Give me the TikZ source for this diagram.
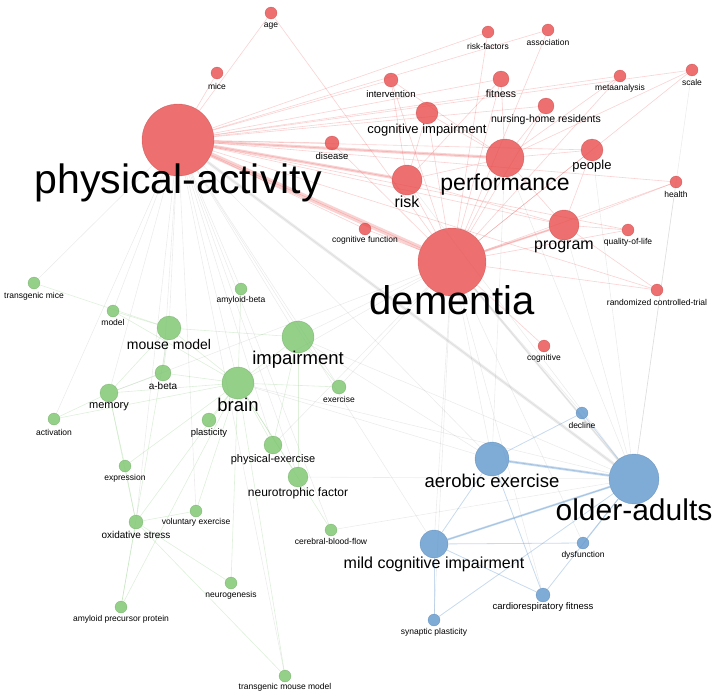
\documentclass[tikz,border=0pt]{standalone}
\usepackage{fontspec}
\setmainfont{Liberation Sans}
\usetikzlibrary{backgrounds}

\definecolor{kwred}{RGB}{232,75,75}
\definecolor{kwgreen}{RGB}{122,196,108}
\definecolor{kwblue}{RGB}{95,150,205}

% keyword circle with its label: name, x, y, radius, colour, font size, label y, text
\newcommand{\kw}[8]{%
  \node[kwnode, fill=#5, draw=#5!80!black, minimum size=2*#4 pt] (#1) at (#2,#3) {};
  \node[font=\fontsize{#6}{#6}\selectfont, inner sep=0pt] (#1-l) at (#2,#7) {#8};
}

\begin{document}
\begin{tikzpicture}[x=1pt,y=-1pt]
    \tikzstyle{kwnode}=[
        circle,
        inner sep=0pt,
        fill opacity=0.8,
        draw opacity=0.5,
        thin
    ]
    \tikzstyle{redlink}=[draw=kwred, opacity=0.25, line width=0.6]
    \tikzstyle{greenlink}=[draw=kwgreen, opacity=0.25, line width=0.6]
    \tikzstyle{bluelink}=[draw=kwblue, opacity=0.35, line width=0.8]
    \tikzstyle{graylink}=[draw=gray, opacity=0.15, line width=0.6]

    \useasboundingbox (0,0) rectangle (718,696);

    % red cluster
    \kw{pa}{178}{140}{36}{kwred}{41}{183}{physical-activity}
    \kw{dem}{452}{262}{34}{kwred}{40}{300}{dementia}
    \kw{perf}{505}{158}{19}{kwred}{23}{185}{performance}
    \kw{risk}{407}{180}{15}{kwred}{16}{202}{risk}
    \kw{prog}{564}{225}{15}{kwred}{16}{247}{program}
    \kw{cogimp}{427}{113}{11}{kwred}{13}{130}{cognitive impairment}
    \kw{people}{592}{150}{11}{kwred}{13}{166}{people}
    \kw{nhr}{546}{106}{8}{kwred}{10.5}{120}{nursing-home residents}
    \kw{fit}{501}{79}{8}{kwred}{10.5}{94}{fitness}
    \kw{interv}{391}{80}{7}{kwred}{9.5}{94}{intervention}
    \kw{dis}{332}{143}{7}{kwred}{9.5}{156}{disease}
    \kw{mice}{217}{73}{6}{kwred}{8.5}{86}{mice}
    \kw{age}{271}{13}{6}{kwred}{8.5}{26}{age}
    \kw{rf}{488}{32}{6}{kwred}{8.5}{46}{risk-factors}
    \kw{assoc}{548}{30}{6}{kwred}{8.5}{42}{association}
    \kw{meta}{620}{76}{6}{kwred}{8.5}{88}{metaanalysis}
    \kw{scale}{692}{70}{6}{kwred}{8.5}{82}{scale}
    \kw{health}{676}{182}{6}{kwred}{8.5}{194}{health}
    \kw{qol}{628}{230}{6}{kwred}{8.5}{242}{quality-of-life}
    \kw{cogf}{365}{229}{6}{kwred}{8.5}{240}{cognitive function}
    \kw{rct}{657}{290}{6}{kwred}{8.5}{302}{randomized controlled-trial}
    \kw{cog}{544}{346}{6}{kwred}{8.5}{358}{cognitive}

    % green cluster
    \kw{imp}{298}{337}{16}{kwgreen}{18.5}{360}{impairment}
    \kw{brain}{238}{383}{16}{kwgreen}{18.5}{405}{brain}
    \kw{mm}{169}{328}{12}{kwgreen}{14}{344}{mouse model}
    \kw{mem}{109}{393}{9}{kwgreen}{11}{407}{memory}
    \kw{abeta}{163}{373}{8}{kwgreen}{10}{386}{a-beta}
    \kw{pex}{273}{445}{9}{kwgreen}{11}{460}{physical-exercise}
    \kw{ntf}{298}{477}{10}{kwgreen}{12}{493}{neurotrophic factor}
    \kw{plast}{209}{420}{7}{kwgreen}{9.5}{433}{plasticity}
    \kw{ex}{339}{387}{7}{kwgreen}{8.5}{399}{exercise}
    \kw{amyb}{241}{289}{6}{kwgreen}{8.5}{300}{amyloid-beta}
    \kw{model}{113}{311}{6}{kwgreen}{8.5}{322}{model}
    \kw{tgm}{34}{283}{6}{kwgreen}{8.5}{296}{transgenic mice}
    \kw{act}{54}{419}{6}{kwgreen}{8.5}{432}{activation}
    \kw{expr}{125}{466}{6}{kwgreen}{8.5}{478}{expression}
    \kw{ox}{136}{522}{7}{kwgreen}{10}{535}{oxidative stress}
    \kw{vex}{196}{511}{6}{kwgreen}{8.5}{522}{voluntary exercise}
    \kw{cbf}{331}{530}{6}{kwgreen}{8.5}{541}{cerebral-blood-flow}
    \kw{ngen}{231}{583}{6}{kwgreen}{8.5}{595}{neurogenesis}
    \kw{app}{121}{607}{6}{kwgreen}{8.5}{619}{amyloid precursor protein}
    \kw{tmm}{285}{676}{6}{kwgreen}{8.5}{687}{transgenic mouse model}

    % blue cluster
    \kw{oa}{634}{479}{25}{kwblue}{30}{510}{older-adults}
    \kw{ae}{492}{459}{17}{kwblue}{18.5}{481}{aerobic exercise}
    \kw{mci}{434}{544}{14}{kwblue}{16}{564}{mild cognitive impairment}
    \kw{decl}{582}{413}{6}{kwblue}{8.5}{425}{decline}
    \kw{dys}{583}{543}{6}{kwblue}{8.5}{555}{dysfunction}
    \kw{crf}{543}{595}{7}{kwblue}{9.5}{607}{cardiorespiratory fitness}
    \kw{sp}{434}{620}{6}{kwblue}{8.5}{632}{synaptic plasticity}

    \begin{scope}[on background layer]
        \foreach \b in {dem,perf,risk,prog,cogimp,people,nhr,fit,interv,dis,mice,age,rf,assoc,meta,scale,health,qol,cogf,rct}
            \draw[redlink] (pa) -- (\b);
        \foreach \b in {perf,risk,prog,cogimp,people,nhr,fit,interv,dis,age,rf,assoc,meta,scale,health,qol,cogf,rct,cog}
            \draw[redlink] (dem) -- (\b);
        \foreach \b in {risk,prog,people,cogimp,nhr,fit,interv,meta,scale}
            \draw[redlink] (perf) -- (\b);
        \foreach \a/\b in {risk/cogimp,risk/prog,risk/fit,risk/interv,prog/people,prog/qol,prog/rct,prog/health}
            \draw[redlink] (\a) -- (\b);
        \draw[redlink, line width=5] (pa) -- (dem);
        \draw[redlink, line width=3] (pa) -- (perf);
        \draw[redlink, line width=3] (pa) -- (risk);
        \draw[redlink, line width=2] (dem) -- (prog);
        % links between clusters
        \foreach \b in {imp,brain,mm,mem,abeta,pex,ntf,ex,oa,ae,mci,amyb,model,tgm,act,ox,vex,tmm,cbf}
            \draw[graylink] (pa) -- (\b);
        \foreach \b in {imp,brain,oa,ae,mci,decl,crf,pex,mem,dys,ex,sp}
            \draw[graylink] (dem) -- (\b);
        \foreach \b in {perf,prog,risk,people,scale,health,imp,brain,ntf,cbf}
            \draw[graylink] (oa) -- (\b);
        \foreach \b in {perf,brain,imp}
            \draw[graylink] (ae) -- (\b);
        \draw[graylink, line width=3] (pa) -- (oa);
        \draw[graylink, line width=2] (dem) -- (oa);
        % green cluster
        \foreach \b in {imp,mm,mem,abeta,pex,ntf,plast,ex,amyb,model,act,expr,ox,vex,ngen,app,tmm,cbf}
            \draw[greenlink] (brain) -- (\b);
        \foreach \a/\b in {imp/mm,imp/pex,imp/ex,imp/ntf,mm/mem,mm/abeta,mm/model,mm/tgm,mm/app,mem/act,mem/abeta,mem/expr,mem/ox,ox/app,ox/ngen,ox/tmm,ox/vex,ox/expr}
            \draw[greenlink] (\a) -- (\b);
        % blue cluster
        \foreach \a/\b in {oa/ae,oa/mci,oa/decl,oa/dys,oa/crf,oa/sp,ae/mci,ae/decl,ae/crf,mci/sp,mci/crf,mci/dys}
            \draw[bluelink] (\a) -- (\b);
        \draw[bluelink, line width=2.5] (oa) -- (ae);
        \draw[bluelink, line width=2] (oa) -- (mci);
    \end{scope}
\end{tikzpicture}
\end{document}
